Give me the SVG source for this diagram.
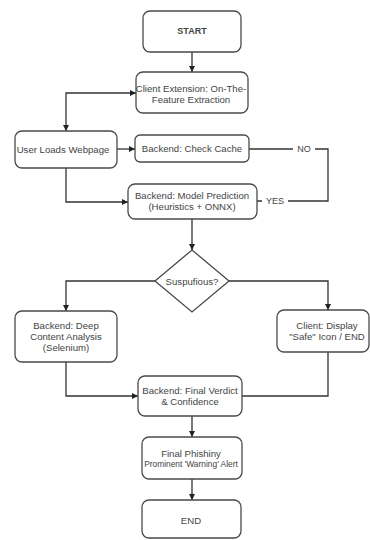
<svg xmlns="http://www.w3.org/2000/svg" width="370" height="540" viewBox="0 0 370 540">
  <style>
    .box { fill: #ffffff; stroke: #4a4a4a; stroke-width: 1.3; }
    .edge { fill: none; stroke: #333333; stroke-width: 1.3; }
    text { font-family: "Liberation Sans", Arial, sans-serif; font-size: 9.6px; fill: #444444; text-anchor: middle; }
    .bold { font-weight: bold; font-size: 9px; }
    .small { font-size: 8.4px; }
    .lbl { font-size: 9px; }
  </style>
  <defs>
    <marker id="arrow" viewBox="0 0 10 10" refX="10" refY="5" markerWidth="6" markerHeight="6" markerUnits="userSpaceOnUse" orient="auto-start-reverse">
      <path d="M0,0 L10,5 L0,10 z" fill="#222222"/>
    </marker>
  </defs>
  <rect width="370" height="540" fill="#ffffff"/>

  <g id="connectors">
    <path class="edge" d="M192,52 V72" marker-end="url(#arrow)"/>
    <path class="edge" d="M136,93 H66 V131" marker-start="url(#arrow)" marker-end="url(#arrow)"/>
    <path class="edge" d="M117,149 H135" marker-end="url(#arrow)"/>
    <path class="edge" d="M249,149 H328 V201 H257"/>
    <path class="edge" d="M66,168 V202 H128" marker-end="url(#arrow)"/>
    <path class="edge" d="M192,219 V250" marker-end="url(#arrow)"/>
    <path class="edge" d="M155,281 H66 V311" marker-end="url(#arrow)"/>
    <path class="edge" d="M229,281 H328 V310" marker-end="url(#arrow)"/>
    <path class="edge" d="M66,362 V396 H138" marker-end="url(#arrow)"/>
    <path class="edge" d="M328,352 V396 H242"/>
    <path class="edge" d="M192,416 V437" marker-end="url(#arrow)"/>
    <path class="edge" d="M192,479 V500" marker-end="url(#arrow)"/>
    <!-- branch labels sit on a white patch over the line -->
    <rect x="293" y="143" width="22" height="12" fill="#ffffff"/>
    <text class="lbl" x="304" y="152">NO</text>
    <rect x="262" y="195" width="26" height="12" fill="#ffffff"/>
    <text class="lbl" x="275" y="204">YES</text>
  </g>

  <g id="start">
    <rect class="box" x="143" y="11" width="98" height="41" rx="7"/>
    <text class="bold" x="192" y="34">START</text>
  </g>

  <g id="client-extension">
    <rect class="box" x="136" y="72" width="112" height="41" rx="7"/>
    <text x="191" y="92">Client Extension: On-The-</text>
    <text x="191" y="103">Feature Extraction</text>
  </g>

  <g id="user-loads">
    <rect class="box" x="15" y="131" width="102" height="37" rx="7"/>
    <text x="63" y="153">User Loads Webpage</text>
  </g>

  <g id="check-cache">
    <rect class="box" x="135" y="135" width="114" height="27" rx="5"/>
    <text x="192" y="152">Backend: Check Cache</text>
  </g>

  <g id="model-prediction">
    <rect class="box" x="128" y="184" width="129" height="35" rx="7"/>
    <text x="192" y="199">Backend: Model Prediction</text>
    <text x="192" y="210">(Heuristics + ONNX)</text>
  </g>

  <g id="suspicious">
    <polygon class="box" points="192,250 229,281 192,312 155,281"/>
    <text x="192" y="284.5">Suspufious?</text>
  </g>

  <g id="deep-analysis">
    <rect class="box" x="15" y="311" width="102" height="51" rx="7"/>
    <text x="66" y="329">Backend: Deep</text>
    <text x="66" y="340">Content Analysis</text>
    <text x="66" y="351">(Selenium)</text>
  </g>

  <g id="client-display">
    <rect class="box" x="277" y="310" width="92" height="42" rx="7"/>
    <text x="327" y="329">Client: Display</text>
    <text x="327" y="340">"Safe" Icon / END</text>
  </g>

  <g id="final-verdict">
    <rect class="box" x="138" y="376" width="104" height="40" rx="7"/>
    <text x="190" y="394">Backend: Final Verdict</text>
    <text x="190" y="405">&amp; Confidence</text>
  </g>

  <g id="final-phishing">
    <rect class="box" x="142" y="437" width="100" height="42" rx="7"/>
    <text x="191" y="457">Final Phishiny</text>
    <text class="small" x="191" y="467">Prominent 'Warning' Alert</text>
  </g>

  <g id="end">
    <rect class="box" x="142" y="500" width="99" height="38" rx="7"/>
    <text x="191" y="524">END</text>
  </g>
</svg>
